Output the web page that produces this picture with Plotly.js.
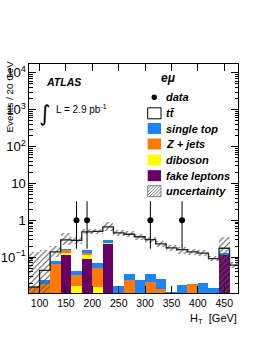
<!DOCTYPE html>
<html><head><meta charset="utf-8">
<script src="https://cdn.plot.ly/plotly-3.0.1.min.js"></script>
<style>html,body{margin:0;padding:0;background:#fff;}#chart{width:262px;height:339px;}</style>
</head><body><div id="chart"></div>
<script>
// ---- data (events per 20 GeV bin) ----
const binCenters = [90,110,130,150,170,190,210,230,250,270,290,310,330,350,370,390,410,430,450,470];
const binWidth = 20;
const fakeLeptons = [0,0,0,0.117,0,0.092,0,0.232,0,0,0,0,0,0,0,0,0,0,0.112,0];
const diboson     = [0,0,0,0.015,0.0163,0.021,0.016,0.013,0,0,0,0,0,0,0,0,0,0,0,0];
const zJets       = [0.0156,0.0193,0.0674,0.023,0.0161,0.016,0.0365,0.005,0,0.0237,0,0.0213,0.014,0,0,0.0189,0,0,0,0];
const singleTop   = [0,0.0055,0.0106,0.015,0.0101,0.026,0.0175,0.035,0.0163,0.0108,0.0237,0.0147,0.0123,0.0113,0.0174,0,0.0196,0.015,0.018,0];
const ttbar       = [0,0.0192,0.061,0.125,0.2425,0.335,0.43,0.381,0.444,0.3855,0.336,0.264,0.204,0.169,0.143,0.121,0.110,0.077,0.045,0.061];
const uncLow      = [0.001,0.001,0.1,0.22,0.23,0.42,0.43,0.5,0.38,0.35,0.30,0.24,0.19,0.15,0.12,0.115,0.105,0.078,0.001,0.05];
const uncHigh     = [0.139,0.16,0.2,0.46,0.36,0.58,0.58,0.9,0.55,0.5,0.43,0.35,0.27,0.21,0.19,0.165,0.155,0.11,0.356,0.075];
const dataX       = [170,190,310,370];
const dataY       = [1,1,1,1];
const dataErrHigh = [2.3,2.3,2.3,2.3];
const dataErrLow  = [0.83,0.83,0.83,0.83];
const xTicks      = [100,150,200,250,300,350,400,450];
const legendLabels = ['data','tt\u0304','single top','Z + jets','diboson','fake leptons','uncertainty'];

// ---- colours ----
const cBlue='#1a84ff', cOrange='#ff7a00', cYellow='#ffff00', cPurple='#660066';

// cumulative stack: fake, diboson, Z+jets, single top, ttbar
const c1 = fakeLeptons.slice();
const c2 = c1.map((v,i)=>v+diboson[i]);
const c3 = c2.map((v,i)=>v+zJets[i]);
const c4 = c3.map((v,i)=>v+singleTop[i]);
const c5 = c4.map((v,i)=>v+ttbar[i]);

function barTrace(y,color){
  return {type:'bar',x:binCenters,y:y.map(v=>v>0?v:null),width:binWidth,
    marker:{color:color,line:{width:0}},hoverinfo:'skip',showlegend:false};
}
const edges = binCenters.map(c=>c-binWidth/2).concat([binCenters[binCenters.length-1]+binWidth/2]);
const stepY = c5.concat([c5[c5.length-1]]);

const traces = [
  barTrace(c5,'#ffffff'),
  barTrace(c4,cBlue),
  barTrace(c3,cOrange),
  barTrace(c2,cYellow),
  barTrace(c1,cPurple),
  {type:'bar',x:binCenters,base:uncLow,y:uncHigh.map((v,i)=>v-uncLow[i]),width:binWidth,
   marker:{color:'rgba(0,0,0,0)',line:{width:0},pattern:{shape:'/',fgcolor:'#555',bgcolor:'rgba(0,0,0,0)',size:4,solidity:0.25}},
   hoverinfo:'skip',showlegend:false},
  {type:'scatter',mode:'lines',x:edges,y:stepY,line:{shape:'hv',color:'#222',width:1.3},hoverinfo:'skip',showlegend:false},
  {type:'scatter',mode:'markers',x:dataX,y:dataY,marker:{color:'#000',size:6},
   error_y:{type:'data',symmetric:false,array:dataErrHigh,arrayminus:dataErrLow,color:'#000',thickness:1,width:0},
   showlegend:false}
];

// ---- layout helpers (pixel -> paper) ----
const L=29,R=24,T=64,B=46,W=262-L-R,H=339-T-B;
const px=x=>(x-L)/W, py=y=>(339-B-y)/H;
const font='Liberation Sans, Arial, Helvetica, sans-serif';

const annotations=[
  {text:'ATLAS',x:px(44),y:py(82),xanchor:'left',yanchor:'middle',font:{family:font,size:10.5,weight:'bold',style:'italic',color:'#000'}},
  {text:'\u222B',x:px(52),y:py(113),xanchor:'right',yanchor:'middle',font:{family:'DejaVu Sans',size:22,color:'#000'}},
  {text:'L = 2.9 pb<sup>-1</sup>',x:px(54),y:py(109),xanchor:'left',yanchor:'middle',font:{family:font,size:10,color:'#000'}},
  {text:'e\u03BC',x:px(159),y:py(78),xanchor:'left',yanchor:'middle',font:{family:font,size:12,weight:'bold',style:'italic',color:'#000'}},
  {text:'Events / 20 GeV',x:px(8.5),y:py(97),xanchor:'center',yanchor:'middle',textangle:-90,font:{family:font,size:9.8,color:'#000'}},
  {text:'H<sub>T</sub>  [GeV]',x:px(239),y:py(319),xanchor:'right',yanchor:'middle',font:{family:font,size:11,color:'#000'}}
];
const rowY=[97.3,113.3,128.5,144,160,175.7,191.2];
legendLabels.forEach((t,i)=>annotations.push({text:t,x:px(163.5),y:py(rowY[i]),xanchor:'left',yanchor:'middle',
  font:{family:font,size:11,weight:'bold',style:'italic',color:'#000'}}));
annotations.forEach(a=>{a.xref='paper';a.yref='paper';a.showarrow=false;});

const bx0=147.7,bx1=161,bh=5.5;
const shapes=[
  {type:'circle',x0:px(151.6),x1:px(157),y0:py(100),y1:py(94.6),fillcolor:'#000',line:{width:0}},
  {type:'rect',x0:px(bx0),x1:px(bx1),y0:py(rowY[1]+bh),y1:py(rowY[1]-bh),fillcolor:'#fff',line:{color:'#000',width:1}},
  {type:'rect',x0:px(bx0),x1:px(bx1),y0:py(rowY[2]+bh),y1:py(rowY[2]-bh),fillcolor:cBlue,line:{width:0}},
  {type:'rect',x0:px(bx0),x1:px(bx1),y0:py(rowY[3]+bh),y1:py(rowY[3]-bh),fillcolor:cOrange,line:{width:0}},
  {type:'rect',x0:px(bx0),x1:px(bx1),y0:py(rowY[4]+bh),y1:py(rowY[4]-bh),fillcolor:cYellow,line:{width:0}},
  {type:'rect',x0:px(bx0),x1:px(bx1),y0:py(rowY[5]+bh),y1:py(rowY[5]-bh),fillcolor:cPurple,line:{width:0}},
  {type:'rect',x0:px(bx0),x1:px(bx1),y0:py(rowY[6]+bh),y1:py(rowY[6]-bh),fillcolor:'rgba(0,0,0,0)',line:{color:'#888',width:1}}
];
// hatch for the uncertainty legend box
(function(){
  const yt=rowY[6]-bh, yb=rowY[6]+bh; let p='';
  for(let s=-11;s<=13;s+=3.2){
    let xa=bx0+s, ya=yb, xb=bx0+s+(yb-yt), yb2=yt;
    if(xa<bx0){ya=yb-(bx0-xa);xa=bx0;}
    if(xb>bx1){yb2=yt+(xb-bx1);xb=bx1;}
    if(xa<xb) p+=`M${px(xa)},${py(ya)}L${px(xb)},${py(yb2)}`;
  }
  shapes.push({type:'path',path:p,line:{color:'#555',width:0.8}});
})();
shapes.forEach(s=>{s.xref='paper';s.yref='paper';});

const layout={
  width:262,height:339,margin:{l:L,r:R,t:T,b:B,pad:0},
  paper_bgcolor:'#fff',plot_bgcolor:'#fff',barmode:'overlay',bargap:0,showlegend:false,
  font:{family:font,size:10,color:'#000'},
  xaxis:{range:[80,476],tickvals:xTicks,ticks:'inside',ticklen:7,tickcolor:'#000',mirror:'allticks',
    showline:true,linecolor:'#000',linewidth:1,showgrid:false,zeroline:false,automargin:false,
    tickfont:{family:font,size:10.5,color:'#000'}},
  yaxis:{type:'log',range:[-1.97,4.24],dtick:1,exponentformat:'power',ticks:'inside',ticklen:7,tickcolor:'#000',
    mirror:'allticks',showline:true,linecolor:'#000',linewidth:1,showgrid:false,zeroline:false,automargin:false,
    minor:{ticks:'inside',ticklen:3.5,dtick:'D1',tickcolor:'#000',showgrid:false},
    tickfont:{family:font,size:10.5,color:'#000'}},
  annotations:annotations,shapes:shapes
};
Plotly.newPlot('chart',traces,layout,{staticPlot:true,displayModeBar:false});
</script></body></html>
